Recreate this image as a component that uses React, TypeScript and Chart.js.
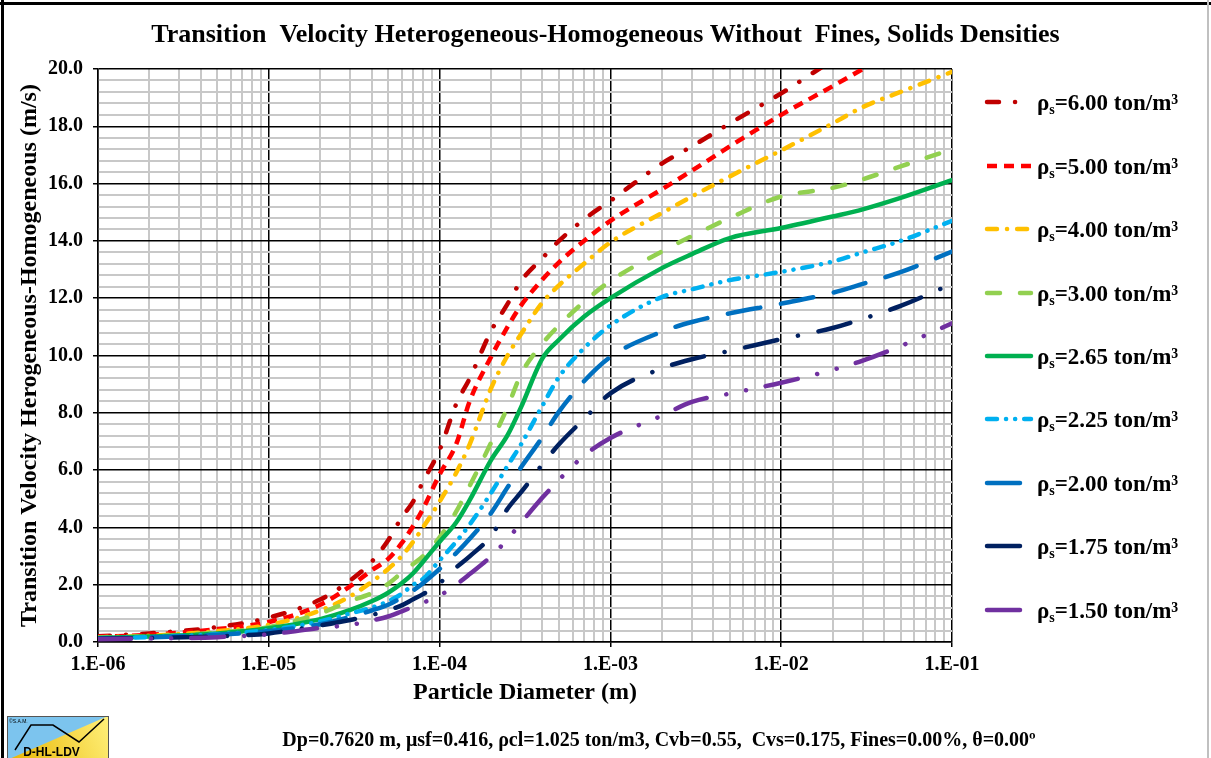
import React, { useEffect, useRef } from 'react';
import { Chart, registerables } from 'chart.js';

Chart.register(...registerables);

// ---------- DATA ----------
const diameters = [
  1e-6, 2e-6, 5e-6, 1e-5, 2e-5, 3e-5, 4e-5, 5e-5, 6e-5, 7e-5, 8e-5, 1e-4, 1.25e-4, 1.5e-4, 2e-4,
  2.5e-4, 3e-4, 4e-4, 5e-4, 7e-4, 1e-3, 2e-3, 3e-3, 5e-3, 1e-2, 2e-2, 3e-2, 5e-2, 1e-1,
];

const rho600 = [0.2, 0.3, 0.52, 0.85, 1.48, 2.15, 2.8, 3.55, 4.35, 4.9, 5.6, 6.7, 8.3, 9.2, 10.85, 11.8, 12.6, 13.4, 14.0, 14.75, 15.4, 16.7, 17.3, 18.1, 19.15, 20.3, 20.9, 21.7, 22.8];
const rho500 = [0.18, 0.25, 0.45, 0.7, 1.3, 1.95, 2.5, 2.9, 3.45, 4.05, 4.65, 5.85, 6.9, 8.4, 9.95, 11.0, 11.75, 12.65, 13.25, 14.0, 14.7, 15.8, 16.45, 17.3, 18.4, 19.4, 20.0, 20.8, 21.9];
const rho400 = [0.16, 0.22, 0.38, 0.6, 1.1, 1.6, 2.1, 2.55, 3.0, 3.5, 4.0, 4.9, 5.9, 6.9, 8.85, 10.0, 10.75, 11.85, 12.45, 13.2, 13.95, 14.97, 15.55, 16.25, 17.16, 18.1, 18.67, 19.2, 19.9];
const rho300 = [0.15, 0.2, 0.33, 0.52, 1.0, 1.43, 1.7, 2.03, 2.42, 2.72, 3.0, 3.65, 4.55, 5.45, 6.95, 8.2, 9.35, 10.42, 11.05, 11.87, 12.6, 13.63, 14.17, 14.8, 15.55, 15.85, 16.15, 16.6, 17.2];
const rho265 = [0.14, 0.19, 0.3, 0.48, 0.8, 1.12, 1.42, 1.72, 2.05, 2.4, 2.8, 3.5, 4.17, 4.95, 6.35, 7.22, 8.2, 9.9, 10.55, 11.35, 12.0, 13.05, 13.54, 14.1, 14.45, 14.85, 15.1, 15.5, 16.12];
const rho225 = [0.13, 0.17, 0.27, 0.42, 0.72, 1.0, 1.2, 1.42, 1.68, 2.0, 2.2, 2.85, 3.5, 4.1, 5.2, 6.15, 6.9, 8.25, 9.25, 10.25, 11.05, 12.04, 12.31, 12.63, 12.92, 13.28, 13.6, 14.0, 14.7];
const rho200 = [0.12, 0.16, 0.25, 0.38, 0.62, 0.88, 1.1, 1.3, 1.55, 1.8, 2.05, 2.55, 3.1, 3.6, 4.5, 5.4, 6.1, 7.15, 8.04, 9.1, 9.95, 10.83, 11.17, 11.47, 11.81, 12.19, 12.5, 12.91, 13.63];
const rho175 = [0.11, 0.14, 0.2, 0.3, 0.58, 0.77, 0.94, 1.11, 1.28, 1.49, 1.67, 2.05, 2.6, 2.99, 3.7, 4.65, 5.23, 6.2, 6.9, 7.78, 8.68, 9.55, 9.87, 10.16, 10.57, 10.96, 11.28, 11.73, 12.5];
const rho150 = [0.1, 0.12, 0.17, 0.27, 0.49, 0.6, 0.75, 0.89, 1.07, 1.23, 1.37, 1.62, 2.0, 2.37, 2.99, 3.59, 4.16, 5.04, 5.66, 6.5, 7.12, 7.9, 8.38, 8.67, 9.05, 9.5, 9.82, 10.33, 11.12];

const densityLabels = ['6.00', '5.00', '4.00', '3.00', '2.65', '2.25', '2.00', '1.75', '1.50'];
const seriesValues = [rho600, rho500, rho400, rho300, rho265, rho225, rho200, rho175, rho150];

const decadeExponents = [-6, -5, -4, -3, -2, -1];
const mantissas = [1, 2, 3, 4, 5, 6, 7, 8, 9];
const yMajorLabels = ['0.0', '2.0', '4.0', '6.0', '8.0', '10.0', '12.0', '14.0', '16.0', '18.0', '20.0'];

const titleText = 'Transition  Velocity Heterogeneous-Homogeneous Without  Fines, Solids Densities';
const xTitleText = 'Particle Diameter (m)';
const yTitleText = 'Transition Velocity Herogeneous-Homogeneous (m/s)';
const footerText = 'Dp=0.7620 m, \u03BCsf=0.416, \u03C1cl=1.025 ton/m3, Cvb=0.55,  Cvs=0.175, Fines=0.00%, \u03B8=0.00\u00BA';

// ---------- STYLES ----------
const seriesStyles = [
  { color: '#C00000', dash: [12, 16, 0.1, 16], cap: 'round' },
  { color: '#FF0000', dash: [10, 7], cap: 'butt' },
  { color: '#FFC000', dash: [10, 10, 0.1, 10], cap: 'round' },
  { color: '#92D050', dash: [13, 20], cap: 'round' },
  { color: '#00B050', dash: [], cap: 'round' },
  { color: '#00B0F0', dash: [10, 9, 0.1, 9, 0.1, 9], cap: 'round' },
  { color: '#0070C0', dash: [33, 21], cap: 'round' },
  { color: '#002060', dash: [33, 21, 0.1, 21], cap: 'round' },
  { color: '#7030A0', dash: [33, 20, 0.1, 20, 0.1, 20], cap: 'round' },
];

const FONT = 'Liberation Serif';
const W = 1211;
const H = 758;

const xTickValues: number[] = [];
decadeExponents.forEach((e) => {
  if (e === -1) {
    xTickValues.push(Math.pow(10, e));
  } else {
    mantissas.forEach((m) => xTickValues.push(m * Math.pow(10, e)));
  }
});
const yTickValues: number[] = [];
for (let i = 0; i <= 50; i++) yTickValues.push((i * 4) / 10);

const isDecade = (v: number) => Math.abs(Math.log10(v) - Math.round(Math.log10(v))) < 1e-6;
const isMajorY = (v: number) => Math.abs(v / 2 - Math.round(v / 2)) < 1e-6;
const fmtDecade = (v: number) => {
  const e = Math.round(Math.log10(v));
  const a = Math.abs(e);
  return '1.E' + (e < 0 ? '-' : '+') + (a < 10 ? '0' + a : String(a));
};

const decorPlugin = {
  id: 'decor',
  afterDraw(chart: any) {
    const ctx: CanvasRenderingContext2D = chart.ctx;
    ctx.save();
    // frame
    ctx.fillStyle = '#000';
    ctx.fillRect(0, 2, W, 3);
    ctx.fillRect(1, 0, 3, H);
    ctx.fillStyle = '#c0c0c0';
    ctx.fillRect(1207, 0, 2, H);

    // legend
    const x0 = 987;
    const x1 = 1031;
    const tx = 1037;
    densityLabels.forEach((lab, i) => {
      const st = seriesStyles[i];
      const y = Math.round(102.3 + i * 63.4);
      ctx.save();
      ctx.strokeStyle = st.color;
      ctx.lineWidth = 4.5;
      ctx.lineCap = st.cap as CanvasLineCap;
      ctx.setLineDash(st.dash);
      ctx.beginPath();
      ctx.moveTo(x0, y);
      ctx.lineTo(x1, y);
      ctx.stroke();
      ctx.restore();
      ctx.fillStyle = '#000';
      ctx.textBaseline = 'alphabetic';
      ctx.textAlign = 'left';
      ctx.font = `bold 23px "${FONT}"`;
      ctx.fillText('\u03C1', tx, y + 8);
      let cx = tx + ctx.measureText('\u03C1').width;
      ctx.font = `bold 14px "${FONT}"`;
      ctx.fillText('s', cx, y + 12);
      cx += ctx.measureText('s').width;
      ctx.font = `bold 23px "${FONT}"`;
      ctx.fillText('=' + lab + ' ton/m\u00B3', cx, y + 8);
    });

    // footer
    ctx.font = `bold 20px "${FONT}"`;
    ctx.textAlign = 'center';
    ctx.textBaseline = 'middle';
    ctx.fillStyle = '#000';
    ctx.fillText(footerText, 659, 741);

    // logo
    const lx = 7, ly = 716, lw = 101, lh = 44;
    ctx.fillStyle = '#7cc4ee';
    ctx.fillRect(lx, ly, lw, lh);
    const g = ctx.createLinearGradient(lx, ly + lh, lx + lw, ly);
    g.addColorStop(0, '#e8b400');
    g.addColorStop(1, '#fff07a');
    ctx.fillStyle = g;
    ctx.beginPath();
    ctx.moveTo(lx, ly + lh);
    ctx.lineTo(lx + lw, ly);
    ctx.lineTo(lx + lw, ly + lh);
    ctx.closePath();
    ctx.fill();
    ctx.strokeStyle = '#000';
    ctx.lineWidth = 1.5;
    ctx.beginPath();
    ctx.moveTo(lx + 8, ly + lh - 10);
    ctx.lineTo(lx + 24, ly + 9);
    ctx.lineTo(lx + 46, ly + 9);
    ctx.lineTo(lx + 72, ly + lh - 18);
    ctx.lineTo(lx + lw - 4, ly + 3);
    ctx.stroke();
    ctx.strokeStyle = '#555';
    ctx.lineWidth = 1;
    ctx.strokeRect(lx + 0.5, ly + 0.5, lw, lh);
    ctx.fillStyle = '#000';
    ctx.font = 'bold 12px "Liberation Sans"';
    ctx.textAlign = 'center';
    ctx.textBaseline = 'alphabetic';
    ctx.fillText('D-HL-LDV', lx + lw / 2 - 6, ly + lh - 4);
    ctx.font = '5px "Liberation Sans"';
    ctx.textAlign = 'left';
    ctx.fillText('\u00A9S.A.M.', lx + 2, ly + 7);
    ctx.restore();
  },
};

export default function App() {
  const ref = useRef<HTMLCanvasElement | null>(null);

  useEffect(() => {
    if (!ref.current) return;
    const datasets = densityLabels.map((lab, i) => ({
      label: '\u03C1s=' + lab + ' ton/m\u00B3',
      data: diameters.map((d, k) => ({ x: d, y: seriesValues[i][k] })),
      borderColor: seriesStyles[i].color,
      backgroundColor: seriesStyles[i].color,
      borderWidth: 4.5,
      borderDash: seriesStyles[i].dash,
      borderCapStyle: seriesStyles[i].cap,
      borderJoinStyle: 'round',
      pointRadius: 0,
      fill: false,
      cubicInterpolationMode: 'monotone',
      clip: 0,
      order: 20 - i,
    }));

    const chart = new Chart(ref.current, {
      type: 'line',
      data: { datasets } as any,
      plugins: [decorPlugin],
      options: {
        responsive: false,
        maintainAspectRatio: false,
        animation: false,
        devicePixelRatio: 1,
        layout: { padding: 0 },
        events: [],
        plugins: {
          legend: { display: false },
          tooltip: { enabled: false },
          title: {
            display: true,
            text: titleText,
            color: '#000',
            font: { family: FONT, size: 26, weight: 'bold', lineHeight: 1.2 },
            padding: { top: 19.4, bottom: 18.4 },
          },
        },
        scales: {
          x: {
            type: 'logarithmic',
            min: 1e-6,
            max: 0.1,
            afterBuildTicks: (s: any) => {
              s.ticks = xTickValues.map((v) => ({ value: v }));
            },
            afterFit: (s: any) => {
              s.height = 116;
            },
            ticks: {
              autoSkip: false,
              maxRotation: 0,
              minRotation: 0,
              padding: 6,
              color: '#000',
              font: { family: FONT, size: 20, weight: 'bold' },
              callback: (v: any) => (isDecade(Number(v)) ? fmtDecade(Number(v)) : ''),
            },
            grid: {
              color: (c: any) => (c.tick && !isDecade(c.tick.value) ? '#c8c8c8' : '#000'),
              lineWidth: (c: any) => (c.tick && !isDecade(c.tick.value) ? 2 : 1.5),
              tickColor: (c: any) => (c.tick && !isDecade(c.tick.value) ? 'rgba(0,0,0,0)' : '#000'),
              tickLength: 5,
              tickWidth: 1.5,
            },
            border: { display: true, color: '#000', width: 1.5 },
            title: {
              display: true,
              text: xTitleText,
              color: '#000',
              font: { family: FONT, size: 24, weight: 'bold', lineHeight: 1.2 },
              padding: { top: 0, bottom: 50.6 },
            },
          },
          y: {
            type: 'linear',
            position: 'left',
            min: 0,
            max: 20,
            afterBuildTicks: (s: any) => {
              s.ticks = yTickValues.map((v) => ({ value: v }));
            },
            afterFit: (s: any) => {
              s.width = 98;
            },
            ticks: {
              autoSkip: false,
              padding: 10,
              color: '#000',
              font: { family: FONT, size: 20, weight: 'bold' },
              callback: (v: any) => (isMajorY(Number(v)) ? yMajorLabels[Math.round(Number(v) / 2)] : ''),
            },
            grid: {
              color: (c: any) => (c.tick && !isMajorY(c.tick.value) ? '#c8c8c8' : '#000'),
              lineWidth: (c: any) => (c.tick && !isMajorY(c.tick.value) ? 2 : 1.5),
              tickColor: (c: any) => (c.tick && !isMajorY(c.tick.value) ? 'rgba(0,0,0,0)' : '#000'),
              tickLength: 5,
              tickWidth: 1.5,
            },
            border: { display: true, color: '#000', width: 1.5 },
            title: {
              display: true,
              text: yTitleText,
              color: '#000',
              font: { family: FONT, size: 24, weight: 'bold', lineHeight: 1.2 },
              padding: { top: 15.6, bottom: 0 },
            },
          },
          legendSpace: {
            type: 'linear',
            position: 'right',
            min: 0,
            max: 20,
            afterFit: (s: any) => {
              s.width = 259;
            },
            ticks: { display: false },
            grid: { display: false, drawOnChartArea: false, drawTicks: false },
            border: { display: false },
            title: { display: false },
          },
        },
      } as any,
    });
    return () => chart.destroy();
  }, []);

  return (
    <div style={{ position: 'absolute', left: 0, top: 0, width: W, height: H, background: '#fff' }}>
      <canvas ref={ref} width={W} height={H} style={{ display: 'block', width: W, height: H }} />
    </div>
  );
}
